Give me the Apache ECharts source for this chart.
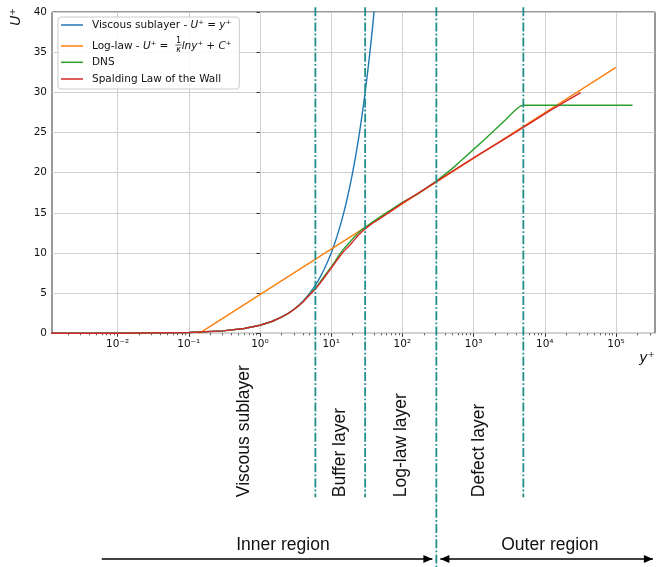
<!DOCTYPE html>
<html><head><meta charset="utf-8">
<script src="https://cdn.jsdelivr.net/npm/echarts@6/dist/echarts.min.js"></script>
<style>html,body{margin:0;padding:0;background:#fff}#c{width:656px;height:567px}</style>
</head><body><div id="c"></div>
<script>
// ---------- data ----------
const viscousYp = [0.001, 0.01, 0.1, 0.3, 0.6, 1, 1.5, 2, 2.5, 3, 3.5, 4, 4.5, 5, 5.5, 6, 6.5, 7, 7.5, 8, 9, 10, 11, 12, 13, 14, 15, 16, 17, 18, 19, 20, 22, 24, 26, 28, 30, 32, 34, 36, 38, 40, 42];
const viscousU  = [0.001, 0.01, 0.1, 0.3, 0.6, 1, 1.5, 2, 2.5, 3, 3.5, 4, 4.5, 5, 5.5, 6, 6.5, 7, 7.5, 8, 9, 10, 11, 12, 13, 14, 15, 16, 17, 18, 19, 20, 22, 24, 26, 28, 30, 32, 34, 36, 38, 40, 42];
const logLawYp = [0.14, 100000];
const logLawU  = [0, 33.1];
const dnsYp = [0.001, 0.01, 0.1, 0.3, 0.6, 1, 1.5, 2, 2.5, 3, 3.5, 4, 5, 6, 7, 8, 9, 10, 11.5, 13, 15, 18.4, 21, 24, 27, 30, 38, 47, 70, 100, 160, 300, 500, 708, 1000, 1413, 1995, 2818, 3548, 4169, 4571, 4786, 5012, 171000];
const dnsU  = [0.001, 0.01, 0.1, 0.3, 0.6, 1, 1.5, 2, 2.48, 2.96, 3.44, 3.9, 4.85, 5.6, 6.4, 7.1, 7.7, 8.25, 9.05, 9.8, 10.5, 11.4, 11.95, 12.5, 12.9, 13.2, 13.85, 14.4, 15.4, 16.3, 17.3, 18.95, 20.5, 21.7, 22.9, 24.1, 25.35, 26.6, 27.5, 28.05, 28.3, 28.37, 28.4, 28.4];
const spaldingYp = [0.001, 0.01, 0.1, 0.3, 0.6, 1, 1.5, 2, 2.5, 3, 3.5, 4, 5, 6, 7, 8, 9, 10, 11.5, 13, 15, 18.4, 21, 24, 27, 30, 38, 47, 70, 100, 211, 471, 1064, 2412, 5478, 12440, 31900];
const spaldingU  = [0.001, 0.01, 0.1, 0.3, 0.6, 1, 1.5, 2, 2.48, 2.96, 3.44, 3.9, 4.8, 5.5, 6.25, 6.95, 7.55, 8.1, 8.85, 9.5, 10.2, 11.0, 11.6, 12.2, 12.65, 13.0, 13.7, 14.2, 15.25, 16.2, 18.0, 20.0, 22.0, 23.9, 25.85, 27.85, 29.96];
const xTickExponents = [-2, -1, 0, 1, 2, 3, 4, 5];
const yTicks = [0, 5, 10, 15, 20, 25, 30, 35, 40];
const regionBounds = [6, 30, 300, 5000];
const innerOuterBound = 300;
const layerNames = ['Viscous sublayer', 'Buffer layer', 'Log-law layer', 'Defect layer'];
const regionNames = ['Inner region', 'Outer region'];
const seriesNames = ['Viscous sublayer - U⁺ = y⁺', 'Log-law - U⁺ = 1/κ lny⁺ + C⁺', 'DNS', 'Spalding Law of the Wall'];

// ---------- layout / style (not data) ----------
const X_MIN = -2.921, X_MAX = 5.548;          // log10 extent of the y+ axis
const layerLabelAt = [0.6, 13.4, 95, 1200];    // y+ anchors of the rotated layer labels
const regionSpan = [[0.006, innerOuterBound], [innerOuterBound, 330000]];
const regionLabelAt = [2.1, 11800];
const GUIDE_TOP_U = 40.6, GUIDE_BOTTOM_U = -20.4, REGION_TEXT_U = -26.4, REGION_ARROW_U = -28.1;
const TEAL = '#1f8f8a';
const COLORS = ['#1f77b4', '#ff7f0e', '#2ca02c', '#d62728'];
const FONT = 'DejaVu Sans';
const SANS = 'Liberation Sans, Arial, sans-serif';
const LFS = 10.5; // legend font size

const lg = v => Math.log10(v);
const pairs = (xs, ys) => xs.map((x, i) => [lg(x), ys[i]]);
const SUP = {'-': '⁻', '0': '⁰', '1': '¹', '2': '²', '3': '³', '4': '⁴', '5': '⁵', '6': '⁶', '7': '⁷', '8': '⁸', '9': '⁹'};
const sup = n => String(n).split('').map(c => SUP[c]).join('');

const minorTicks = [];
for (let e = -3; e <= 5; e++) for (let k = 2; k <= 9; k++) {
  const v = lg(k) + e; if (v > X_MIN && v < X_MAX) minorTicks.push(v);
}

function lineSeries(name, data, color, z) {
  return {name, type: 'line', data, showSymbol: false, symbol: 'none', z, smooth: false,
    lineStyle: {color, width: 1.4, join: 'round'}, itemStyle: {color}, animation: false, clip: true};
}

const richLegend = {
  t: {fontFamily: FONT, fontSize: LFS, color: '#111', lineHeight: 14},
  i: {fontFamily: FONT, fontSize: LFS, fontStyle: 'italic', color: '#111', lineHeight: 14},
  g: {fontFamily: FONT, fontSize: LFS, width: 10, lineHeight: 14}
};
function legendFmt(name) {
  if (name === seriesNames[0]) return '{t|Viscous sublayer - }{i|U}{t|⁺ = }{i|y}{t|⁺}';
  if (name === seriesNames[1]) return '{t|Log-law - }{i|U}{t|⁺ = }{g| }{i|lny}{t|⁺ + }{i|C}{t|⁺}';
  return '{t|' + name + '}';
}
const legendCommon = {
  orient: 'vertical', icon: 'rect', itemWidth: 22, itemHeight: 1.5,
  formatter: legendFmt, selectedMode: false,
  textStyle: {fontFamily: FONT, fontSize: LFS, color: '#111', lineHeight: 14, padding: [0, 0, 0, 4], rich: richLegend}
};

const chart = echarts.init(document.getElementById('c'), null, {renderer: 'canvas'});
chart.setOption({
  animation: false,
  backgroundColor: '#fff',
  grid: {left: 52, right: 1, top: 12, bottom: 233.7, show: true, borderColor: '#333', borderWidth: 1, containLabel: false, outerBoundsMode: 'none'},
  legend: [
    Object.assign({}, legendCommon, {data: seriesNames.slice(0, 2), left: 58, top: 17, itemGap: 7, z: 3,
      padding: [1, 8, 36, 3], backgroundColor: 'rgba(255,255,255,0.85)', borderColor: '#cccccc', borderWidth: 1, borderRadius: 3}),
    Object.assign({}, legendCommon, {data: seriesNames.slice(2), left: 61, top: 55.3, itemGap: 2.7, z: 4, padding: 0})
  ],
  xAxis: [
    {type: 'value', min: X_MIN, max: X_MAX,
     name: 'y⁺', nameLocation: 'end', nameGap: 0,
     nameTextStyle: {fontFamily: FONT, fontSize: 14, fontStyle: 'italic', color: '#111', align: 'right', verticalAlign: 'top', padding: [18, 0, 0, 0]},
     axisLine: {show: false},
     axisTick: {show: true, customValues: xTickExponents, length: 3.5, lineStyle: {color: '#333', width: 1}},
     axisLabel: {customValues: xTickExponents, formatter: v => '10' + sup(v), fontFamily: FONT, fontSize: 10.5, color: '#111', margin: 5},
     splitLine: {show: true, lineStyle: {color: '#d0d0d0', width: 1}}},
    {type: 'value', min: X_MIN, max: X_MAX, position: 'bottom',
     axisLine: {show: false},
     axisTick: {show: true, customValues: minorTicks, length: 2, lineStyle: {color: '#333', width: 0.8}},
     axisLabel: {show: false}, splitLine: {show: false}}
  ],
  yAxis: {type: 'value', min: 0, max: 40, interval: 5,
    axisLine: {show: false},
    axisTick: {show: true, length: 3.5, lineStyle: {color: '#333'}},
    axisLabel: {fontFamily: FONT, fontSize: 10.5, color: '#111', margin: 5, formatter: v => yTicks.includes(v) ? String(v) : ''},
    splitLine: {show: true, lineStyle: {color: '#d0d0d0', width: 1}}},
  graphic: [
    {type: 'text', x: 16, y: 17, rotation: Math.PI / 2, z: 100,
     style: {text: 'U⁺', fontFamily: FONT, fontSize: 14, fontStyle: 'italic', fill: '#111', align: 'center', verticalAlign: 'middle'}},
    {type: 'text', x: 178.5, y: 40.5, z: 100, style: {text: '1', fontFamily: FONT, fontSize: 8, fill: '#111', align: 'center', verticalAlign: 'middle'}},
    {type: 'line', z: 100, shape: {x1: 175.5, y1: 45, x2: 181.5, y2: 45}, style: {stroke: '#111', lineWidth: 0.7}},
    {type: 'text', x: 178.5, y: 50, z: 100, style: {text: 'κ', fontFamily: FONT, fontSize: 8, fontStyle: 'italic', fill: '#111', align: 'center', verticalAlign: 'middle'}}
  ],
  series: [
    lineSeries(seriesNames[0], pairs(viscousYp, viscousU), COLORS[0], 2),
    lineSeries(seriesNames[1], pairs(logLawYp, logLawU), COLORS[1], 3),
    lineSeries(seriesNames[2], pairs(dnsYp, dnsU), COLORS[2], 4),
    lineSeries(seriesNames[3], pairs(spaldingYp, spaldingU), COLORS[3], 5),
    {type: 'custom', name: 'region boundaries', clip: false, silent: true, z: 6,
     data: regionBounds.map(b => [lg(b), b === innerOuterBound ? 1 : 0]),
     renderItem: (params, api) => {
       const xv = api.value(0);
       const top = api.coord([xv, GUIDE_TOP_U]);
       const yb = api.value(1) === 1 ? api.getHeight() : api.coord([xv, GUIDE_BOTTOM_U])[1];
       return {type: 'line', shape: {x1: top[0], y1: top[1], x2: top[0], y2: yb},
         style: {stroke: TEAL, lineWidth: 1.8, lineDash: [9, 2.2, 1.8, 2.2]}};
     }},
    {type: 'custom', name: 'layer labels', clip: false, silent: true, z: 6,
     data: layerNames.map((n, i) => [lg(layerLabelAt[i]), i]),
     renderItem: (params, api) => {
       const p = api.coord([api.value(0), GUIDE_BOTTOM_U]);
       return {type: 'text', x: p[0], y: p[1], rotation: Math.PI / 2,
         style: {text: layerNames[api.value(1)], fontFamily: SANS, fontSize: 17.5, fill: '#111', align: 'left', verticalAlign: 'middle'}};
     }},
    {type: 'custom', name: 'regions', clip: false, silent: true, z: 6,
     data: regionNames.map((n, i) => [lg(regionLabelAt[i]), i]),
     renderItem: (params, api) => {
       const i = api.value(1);
       const tp = api.coord([api.value(0), REGION_TEXT_U]);
       const a = api.coord([lg(regionSpan[i][0]), REGION_ARROW_U]);
       const b = api.coord([lg(regionSpan[i][1]), REGION_ARROW_U]);
       const y = a[1];
       let x1 = a[0], x2 = b[0];
       if (i === 1) x1 += 4; else x2 -= 4;
       const head = (tip, dir) => ({type: 'polygon', shape: {points: [[tip, y], [tip - 9 * dir, y - 4], [tip - 9 * dir, y + 4]]}, style: {fill: '#000'}});
       const children = [
         {type: 'line', shape: {x1: x1, y1: y, x2: x2, y2: y}, style: {stroke: '#000', lineWidth: 1.3}},
         head(x2, 1),
         {type: 'text', x: tp[0], y: tp[1], style: {text: regionNames[i], fontFamily: SANS, fontSize: 17.5, fill: '#111', align: 'center', verticalAlign: 'middle'}}
       ];
       if (i === 1) children.push(head(x1, -1));
       return {type: 'group', children};
     }}
  ]
});
</script></body></html>
